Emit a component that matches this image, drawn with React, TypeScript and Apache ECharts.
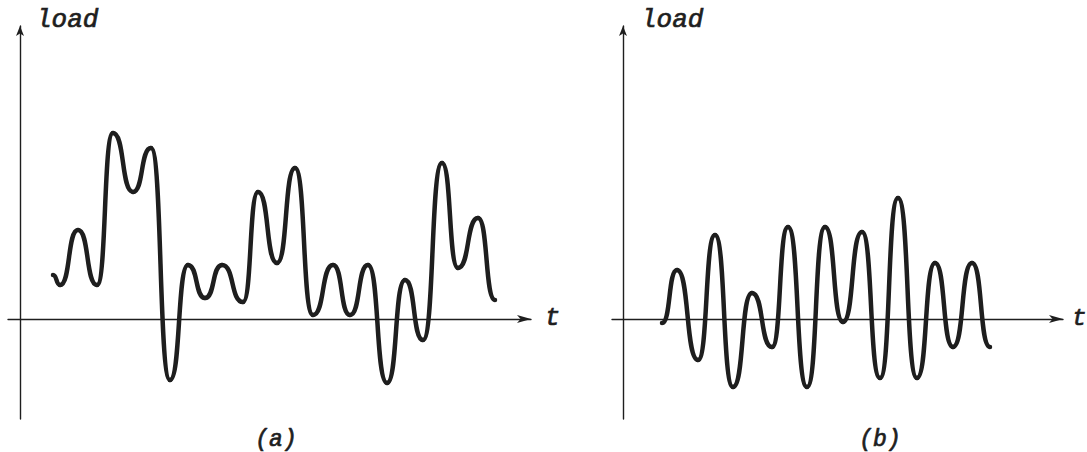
import React, { useEffect, useRef } from "react";
import * as echarts from "echarts";

// Load history (a): time, load pairs at each turning point of the trace
const timeA = [3.3, 4.0, 5.8, 7.7, 9.3, 11.3, 13.1, 15.0, 16.8, 18.5, 20.2, 22.3, 23.8, 25.7, 27.5, 29.3, 31.3, 33.0, 34.8, 36.7, 38.5, 40.3, 42.2, 43.8, 45.8, 47.5];
const loadA = [4.4, 3.4, 8.9, 3.4, 18.6, 12.7, 17.1, -6.1, 5.4, 2.1, 5.4, 1.7, 12.7, 5.6, 15.1, 0.4, 5.4, 0.4, 5.4, -6.4, 3.9, -2.1, 15.6, 5.1, 10.1, 1.9];

// Load history (b): fully reversing trace
const timeB = [3.9, 5.4, 7.5, 9.2, 11.0, 12.9, 14.9, 16.5, 18.4, 20.2, 22.0, 23.9, 25.7, 27.5, 29.4, 31.2, 33.0, 34.9, 36.7];
const loadB = [-0.4, 4.9, -4.1, 8.4, -6.8, 2.6, -2.8, 9.2, -6.8, 9.2, -0.3, 8.7, -5.9, 12.1, -5.9, 5.6, -2.8, 5.6, -2.8];

const panelCaptions = ["(a)", "(b)"];
const axisNames = { load: "load", time: "t" };

const ink = "#1e1e1e";
const labelFont = '"Liberation Mono", "DejaVu Sans Mono", monospace';

function pairs(xs: number[], ys: number[]) {
  return xs.map((x, i) => [x, ys[i]]);
}

export default function App() {
  const ref = useRef<HTMLDivElement>(null);

  useEffect(() => {
    if (!ref.current) return;
    const chart = echarts.init(ref.current, undefined, { renderer: "svg" });

    const axisLine = {
      show: true,
      onZero: true,
      lineStyle: { color: ink, width: 1.4 },
    };
    const makeX = (gridIndex: number, min: number, max: number) => ({
      type: "value" as const,
      gridIndex,
      min,
      max,
      axisLine: { ...axisLine, symbol: ["none", "arrow"], symbolSize: [6, 14] },
      axisTick: { show: false },
      axisLabel: { show: false },
      splitLine: { show: false },
    });
    const makeY = (gridIndex: number) => ({
      type: "value" as const,
      gridIndex,
      min: -10,
      max: 29.3,
      axisLine: { ...axisLine, symbol: ["none", "arrow"], symbolSize: [6, 10] },
      axisTick: { show: false },
      axisLabel: { show: false },
      splitLine: { show: false },
    });

    // Each turning point is joined to the next by a cubic with horizontal
    // tangents at both ends: flat crests and troughs, steep flanks.
    const FLAT = 0.6;
    const curve = (axisIndex: number, xs: number[], ys: number[]) => ({
      type: "custom" as const,
      coordinateSystem: "cartesian2d",
      xAxisIndex: axisIndex,
      yAxisIndex: axisIndex,
      data: pairs(xs, ys),
      silent: true,
      renderItem: (params: any, api: any) => {
        const i = params.dataIndex;
        if (i >= xs.length - 1) return null;
        const p0 = api.coord([xs[i], ys[i]]);
        const p1 = api.coord([xs[i + 1], ys[i + 1]]);
        const dx = p1[0] - p0[0];
        return {
          type: "bezierCurve",
          shape: {
            x1: p0[0],
            y1: p0[1],
            cpx1: p0[0] + FLAT * dx,
            cpy1: p0[1],
            cpx2: p1[0] - FLAT * dx,
            cpy2: p1[1],
            x2: p1[0],
            y2: p1[1],
          },
          style: { stroke: ink, lineWidth: 4.5, fill: "none", lineCap: "round" },
        };
      },
    });

    const text = (
      str: string,
      x: number,
      y: number,
      size: number,
      align: "left" | "center" = "left"
    ) => ({
      type: "text" as const,
      x,
      y,
      style: {
        text: str,
        fill: ink,
        stroke: ink,
        lineWidth: 0.7,
        font: `italic ${size}px ${labelFont}`,
        align,
        verticalAlign: "middle" as const,
      },
    });

    chart.setOption({
      animation: false,
      backgroundColor: "#ffffff",
      grid: [
        { left: 8, top: 26, width: 523, height: 393 },
        { left: 612, top: 26, width: 451, height: 393 },
      ],
      xAxis: [makeX(0, -1.2, 51.1), makeX(1, -1.1, 44.0)],
      yAxis: [makeY(0), makeY(1)],
      series: [curve(0, timeA, loadA), curve(1, timeB, loadB)],
      graphic: [
        text(axisNames.load, 36, 20, 26),
        text(axisNames.load, 641, 20, 26),
        text(axisNames.time, 545, 318, 25),
        text(axisNames.time, 1072, 318, 24),
        text(panelCaptions[0], 276, 440, 23, "center"),
        text(panelCaptions[1], 880, 440, 23, "center"),
      ],
    });

    return () => chart.dispose();
  }, []);

  return (
    <div
      ref={ref}
      style={{ position: "fixed", left: 0, top: 0, width: 1087, height: 452 }}
    />
  );
}
